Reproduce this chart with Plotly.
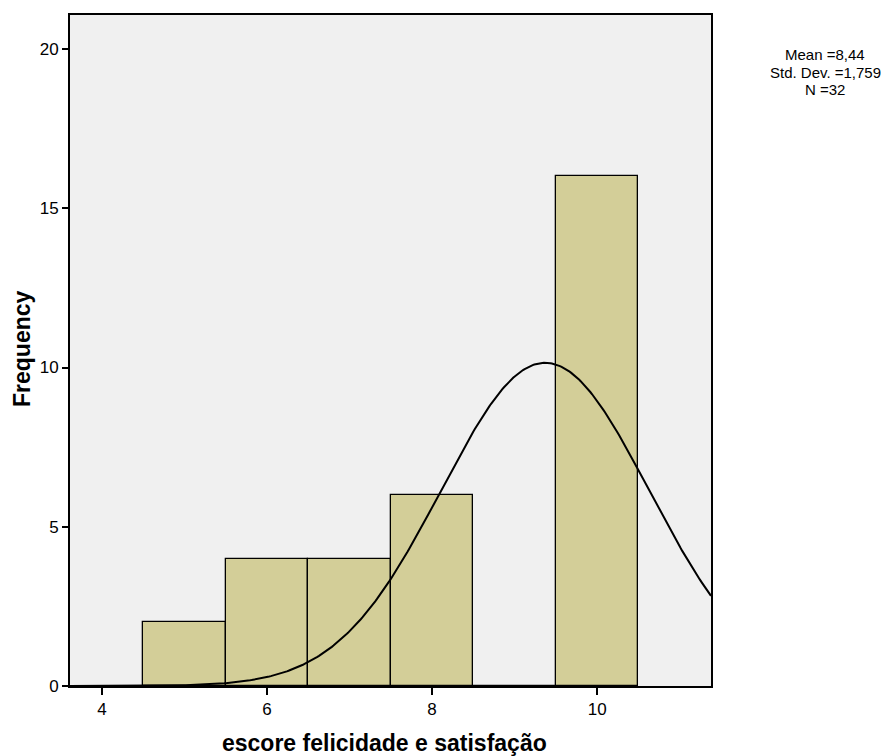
import numpy as np
import plotly.graph_objects as go

# Histogram data
bin_centers = [5, 6, 7, 8, 9, 10]
counts = [2, 4, 4, 6, 0, 16]
bin_width = 1.0

# Normal curve parameters (estimated from the drawn curve)
curve_mean = 9.37
curve_sd = 1.258
n_obs = 32

stats_lines = ["Mean =8,44", "Std. Dev. =1,759", "N =32"]
x_ticks = [4, 6, 8, 10]
y_ticks = [0, 5, 10, 15, 20]
x_title = "escore felicidade e satisfação"
y_title = "Frequency"

x_range = [3.612, 11.38]
y_range = [0, 21.07]

W, H = 890, 756
L, R, T, B = 70, 179, 15, 70
pw = W - L - R
ph = H - T - B


def px_x(px):
    return (px - L) / pw


def px_y(py):
    return (H - B - py) / ph


xs = np.linspace(x_range[0], x_range[1], 400)
ys = n_obs * bin_width / (curve_sd * np.sqrt(2 * np.pi)) * np.exp(-((xs - curve_mean) ** 2) / (2 * curve_sd ** 2))

fig = go.Figure()
fig.add_trace(go.Bar(
    x=bin_centers, y=counts, width=bin_width,
    marker=dict(color="#D3CE98", line=dict(color="black", width=1.3)),
    showlegend=False, hoverinfo="x+y",
))
fig.add_trace(go.Scatter(
    x=xs, y=ys, mode="lines", line=dict(color="black", width=2),
    showlegend=False, hoverinfo="skip",
))

font_fam = "Arial, Liberation Sans, sans-serif"
annots = []
for i, line in enumerate(stats_lines):
    annots.append(dict(
        x=px_x(825), y=px_y(55 + 17 * i), xref="paper", yref="paper",
        xanchor="center", yanchor="middle", showarrow=False, text=line,
        font=dict(size=15, family=font_fam), borderpad=0,
    ))
annots.append(dict(
    x=px_x(384), y=px_y(743), xref="paper", yref="paper",
    xanchor="center", yanchor="middle", showarrow=False,
    text="<b>" + x_title + "</b>", font=dict(size=23, family=font_fam),
))
annots.append(dict(
    x=px_x(22), y=px_y(349), xref="paper", yref="paper",
    xanchor="center", yanchor="middle", showarrow=False, textangle=-90,
    text="<b>" + y_title + "</b>", font=dict(size=23, family=font_fam),
))

fig.update_layout(
    width=W, height=H,
    margin=dict(l=L, r=R, t=T, b=B, autoexpand=False),
    paper_bgcolor="white", plot_bgcolor="#F0F0F0",
    font=dict(family=font_fam, color="black", size=17),
    bargap=0,
    annotations=annots,
)

fig.update_xaxes(
    range=x_range, tickvals=x_ticks, ticks="outside", ticklen=7, tickwidth=2,
    tickcolor="black", showline=True, linecolor="black", linewidth=2, mirror=True,
    showgrid=False, zeroline=False, automargin=False,
)
fig.update_yaxes(
    range=y_range, tickvals=y_ticks, ticks="outside", ticklen=6, tickwidth=2,
    tickcolor="black", showline=True, linecolor="black", linewidth=2, mirror=True,
    showgrid=False, zeroline=False, automargin=False, ticklabelstandoff=0,
)

fig.write_html("out.html")
